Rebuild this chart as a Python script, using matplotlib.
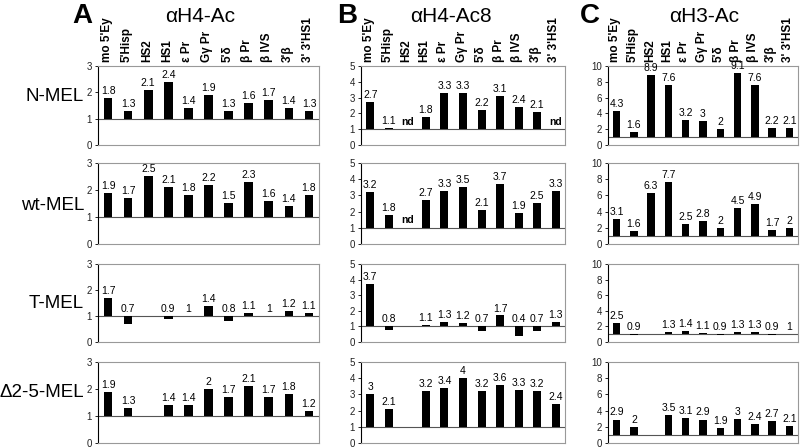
import matplotlib
matplotlib.use('Agg')
import matplotlib.pyplot as plt
import numpy as np

plt.rcParams['font.family'] = ['Liberation Sans', 'DejaVu Sans']

regions = ["mo 5'Ey", "5'Hisp", "HS2", "HS1", "\u03b5 Pr", "G\u03b3 Pr",
           "5'\u03b4", "\u03b2 Pr", "\u03b2 IVS", "3'\u03b2", "3' 3'HS1"]
cells = ["N-MEL", "wt-MEL", "T-MEL", "\u03942-5-MEL"]

# None = no bar, 'nd' = not determined
h4_ac = [
    [1.8, 1.3, 2.1, 2.4, 1.4, 1.9, 1.3, 1.6, 1.7, 1.4, 1.3],
    [1.9, 1.7, 2.5, 2.1, 1.8, 2.2, 1.5, 2.3, 1.6, 1.4, 1.8],
    [1.7, 0.7, None, 0.9, 1, 1.4, 0.8, 1.1, 1, 1.2, 1.1],
    [1.9, 1.3, None, 1.4, 1.4, 2, 1.7, 2.1, 1.7, 1.8, 1.2],
]
h4_ac8 = [
    [2.7, 1.1, 'nd', 1.8, 3.3, 3.3, 2.2, 3.1, 2.4, 2.1, 'nd'],
    [3.2, 1.8, 'nd', 2.7, 3.3, 3.5, 2.1, 3.7, 1.9, 2.5, 3.3],
    [3.7, 0.8, None, 1.1, 1.3, 1.2, 0.7, 1.7, 0.4, 0.7, 1.3],
    [3, 2.1, None, 3.2, 3.4, 4, 3.2, 3.6, 3.3, 3.2, 2.4],
]
h3_ac = [
    [4.3, 1.6, 8.9, 7.6, 3.2, 3, 2, 9.1, 7.6, 2.2, 2.1],
    [3.1, 1.6, 6.3, 7.7, 2.5, 2.8, 2, 4.5, 4.9, 1.7, 2],
    [2.5, 0.9, None, 1.3, 1.4, 1.1, 0.9, 1.3, 1.3, 0.9, 1],
    [2.9, 2, None, 3.5, 3.1, 2.9, 1.9, 3, 2.4, 2.7, 2.1],
]

panels = [
    ("A", "\u03b1H4-Ac", h4_ac, [0, 1, 2, 3]),
    ("B", "\u03b1H4-Ac8", h4_ac8, [0, 1, 2, 3, 4, 5]),
    ("C", "\u03b1H3-Ac", h3_ac, [0, 2, 4, 6, 8, 10]),
]

W, H = 800, 448
fig = plt.figure(figsize=(8, 4.48), dpi=100)

# pixel layout of the grid
col_px = [(98, 221), (361, 204), (608, 190)]
row_px = [(66, 145), (163, 244), (264, 342), (362, 443)]
letter_x = [82, 347, 590]
title_x = [200, 451, 704]
label_y = [0.62, 0.47, 0.5, 0.62]

x = np.arange(len(regions)) + 0.5

for c, (letter, title, data, yticks) in enumerate(panels):
    left, width = col_px[c]
    ymax = yticks[-1]
    fig.text(letter_x[c] / W, 1 - 16 / H, letter, fontsize=20, fontweight='bold',
             ha='center', va='center')
    fig.text(title_x[c] / W, 1 - 16 / H, title, fontsize=15, ha='center', va='center')
    for r, vals in enumerate(data):
        top, bot = row_px[r]
        ax = fig.add_axes([left / W, 1 - bot / H, width / W, (bot - top) / H])
        ax.set_xlim(0, len(regions))
        ax.set_ylim(0, ymax)
        ax.axhline(1, color='#555555', lw=0.8, zorder=1)
        for xi, v in zip(x, vals):
            if v is None:
                continue
            if v == 'nd':
                ax.text(xi, 1 + ymax * 0.03, 'nd', ha='center', va='bottom',
                        fontsize=7.5, fontweight='bold')
                continue
            ax.bar(xi, v - 1, bottom=1, width=0.43, color='black', zorder=2)
            ax.text(xi, max(v, 1) + ymax * 0.025, f"{v:g}", ha='center', va='bottom',
                    fontsize=7.5, clip_on=False)
        ax.set_xticks([])
        ax.set_yticks(yticks)
        ax.tick_params(axis='y', labelsize=7, length=2.5, width=0.6, pad=2,
                       labelcolor='#222222')
        for side in ['top', 'right', 'bottom']:
            ax.spines[side].set_color('#999999')
            ax.spines[side].set_linewidth(0.8)
        ax.spines['left'].set_linewidth(0.8)
        if r == 0:
            for xi, name in zip(x, regions):
                ax.annotate(name, (xi, 1), xycoords=('data', 'axes fraction'),
                            xytext=(-1, 3), textcoords='offset points',
                            rotation=90, ha='center', va='bottom',
                            fontsize=8.5, fontweight='bold')
        if c == 0:
            fig.text(84 / W, 1 - (bot - label_y[r] * (bot - top)) / H, cells[r],
                     fontsize=13.5, ha='right', va='center')

fig.savefig('out.png', dpi=100)
